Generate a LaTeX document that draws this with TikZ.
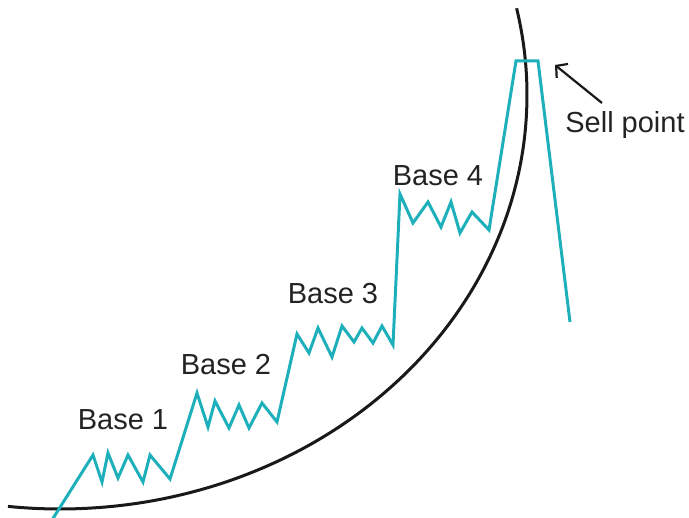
\documentclass[tikz,border=0pt]{standalone}
\usepackage{fontspec}
\setmainfont{Liberation Sans}
\usetikzlibrary{arrows.meta}
\definecolor{cyanline}{RGB}{30,176,186}
\definecolor{curveblack}{RGB}{25,25,25}
\definecolor{labeltext}{RGB}{35,35,35}
\begin{document}
\begin{tikzpicture}[x=1pt,y=-1pt,
  lbl/.style={font=\fontsize{29}{34}\selectfont, text=labeltext, inner sep=0pt, anchor=base},
  price/.style={draw=cyanline, line width=3pt, miter limit=10},
  trend/.style={draw=curveblack, line width=3pt},
  pointer/.style={draw=curveblack, line width=2.2pt, -{Straight Barb[length=8pt,width=18pt]}}]
\useasboundingbox (0,0) rectangle (689,518);
% curved trend line
\draw[trend] plot[domain=96.4:-12.1, samples=120, smooth, variable=\t]
  ({60+467*cos(\t)},{95+414*sin(\t)});
% price line
\draw[price] (52,520) -- (93,455) -- (102,482) -- (108,453) -- (118,478) -- (128,455)
  -- (143,482) -- (150,455) -- (170,479)
  -- (197,393) -- (208,427) -- (215,401) -- (229,428) -- (239,405) -- (249,428)
  -- (262,403) -- (277,422)
  -- (297,334) -- (309,353) -- (318,328) -- (332,357) -- (342,326) -- (354,342)
  -- (362,328) -- (373,343) -- (382,326) -- (393,345)
  -- (400,194) -- (413,223) -- (428,202) -- (441,227) -- (451,202) -- (460,233)
  -- (472,212) -- (489,230)
  -- (516,61) -- (538,61) -- (570,322);
% labels
\node[lbl] (base1) at (123,430) {Base 1};
\node[lbl] (base2) at (226,375) {Base 2};
\node[lbl] (base3) at (333,304) {Base 3};
\node[lbl] (base4) at (438,186) {Base 4};
\node[lbl] (sell) at (625,133) {Sell point};
\coordinate (selltail) at (602,103);
\coordinate (sellpeak) at (555,65);
\draw[pointer] (selltail) -- (sellpeak);
\end{tikzpicture}
\end{document}
